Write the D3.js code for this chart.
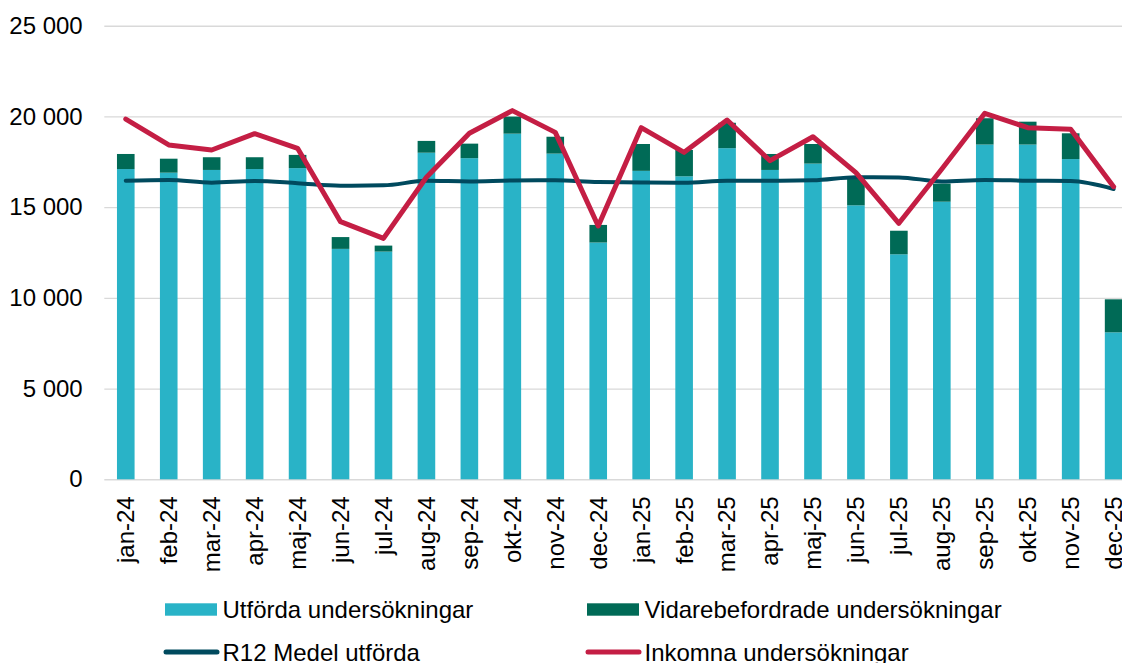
<!DOCTYPE html>
<html>
<head>
<meta charset="utf-8">
<script src="https://cdn.jsdelivr.net/npm/d3@7"></script>
<style>
  body { margin: 0; background: #fff; }
  svg { display: block; font-family: "Liberation Sans", Arial, sans-serif; }
</style>
</head>
<body>
<div class="chart"></div>
<script>
// manader
const months = ['jan-24','feb-24','mar-24','apr-24','maj-24','jun-24','jul-24','aug-24','sep-24','okt-24','nov-24','dec-24',
                'jan-25','feb-25','mar-25','apr-25','maj-25','jun-25','jul-25','aug-25','sep-25','okt-25','nov-25','dec-25'];

const utforda  = [17100,16900,17050,17100,17150,12700,12550,18000,17700,19050,17950,13050,
                  17000,16700,18250,17050,17400,15100,12400,15300,18450,18450,17650,8100];
const vidare   = [830,770,700,650,730,650,330,650,800,940,930,970,
                  1480,1450,1400,880,1080,1500,1300,1000,1450,1260,1420,1820];
const r12      = [16460,16500,16350,16440,16320,16180,16200,16450,16420,16470,16480,16380,
                  16360,16340,16460,16460,16480,16650,16640,16420,16500,16460,16440,16000];
const inkomna  = [19850,18430,18150,19050,18240,14200,13280,16650,19070,20320,19120,13960,
                  19380,18020,19800,17560,18880,16900,14110,17100,20170,19380,19290,16130];

const yTicks = [0,5000,10000,15000,20000,25000];

const colors = {
    utf: '#29b3c7',
    vid: '#006a56',
    r12: '#004a5e',
    ink: '#c41e44'
}

const width = 1122, height = 663;
const margin = {left: 104.3, right: 1135.1, top: 25.7, bottom: 479.3};

const svg = d3.select('.chart').append('svg')
    .attr('width', width)
    .attr('height', height)
    .attr('viewBox', [0, 0, width, height]);

const x = d3.scaleBand().domain(months).range([margin.left, margin.right]).padding(0);
const y = d3.scaleLinear().domain([0, 25000]).range([margin.bottom, margin.top]);
const barW = x.bandwidth() * 0.41;
const cx = d => x(d) + x.bandwidth() / 2;

const fmt = d3.formatLocale({decimal: ',', thousands: ' ', grouping: [3], currency: ['', '']}).format(',d');

// y axis + grid
const yAxis = svg.append('g')
    .attr('transform', `translate(${margin.left},0)`)
    .call(d3.axisLeft(y).tickValues(yTicks).tickFormat(fmt)
        .tickSize(-(margin.right - margin.left)).tickPadding(21.6));
yAxis.select('.domain').remove();
yAxis.selectAll('line').attr('stroke', '#d9d9d9').attr('stroke-width', 1.4);
yAxis.selectAll('text')
    .attr('fill', '#000')
    .style('font-size', '24px')
    .style('font-family', '"Liberation Sans", Arial, sans-serif');

// x axis labels
const xAxis = svg.append('g')
    .attr('transform', `translate(0,${margin.bottom})`)
    .call(d3.axisBottom(x).tickSize(0));
xAxis.select('.domain').remove();
xAxis.selectAll('text')
    .attr('transform', 'rotate(-90)')
    .attr('text-anchor', 'end')
    .attr('x', -17)
    .attr('y', 0)
    .attr('dy', '0.35em')
    .attr('fill', '#000')
    .style('font-size', '24px')
    .style('font-family', '"Liberation Sans", Arial, sans-serif');

// staplar
const stacked = months.map((m, i) => ({m, u: utforda[i], v: vidare[i]}));

svg.append('g').selectAll('rect')
    .data(stacked)
    .join('rect')
    .attr('x', d => cx(d.m) - barW / 2)
    .attr('width', barW)
    .attr('y', d => y(d.u))
    .attr('height', d => y(0) - y(d.u))
    .attr('fill', colors.utf);

svg.append('g').selectAll('rect')
    .data(stacked)
    .join('rect')
    .attr('x', d => cx(d.m) - barW / 2)
    .attr('width', barW)
    .attr('y', d => y(d.u + d.v))
    .attr('height', d => y(d.u) - y(d.u + d.v))
    .attr('fill', colors.vid);

// linjer
const r12Line = d3.line()
    .x((d, i) => cx(months[i]))
    .y(d => y(d))
    .curve(d3.curveMonotoneX);

svg.append('path')
    .datum(r12)
    .attr('d', r12Line)
    .attr('fill', 'none')
    .attr('stroke', colors.r12)
    .attr('stroke-width', 4)
    .attr('stroke-linecap', 'round');

const inkLine = d3.line()
    .x((d, i) => cx(months[i]))
    .y(d => y(d));

svg.append('path')
    .datum(inkomna)
    .attr('d', inkLine)
    .attr('fill', 'none')
    .attr('stroke', colors.ink)
    .attr('stroke-width', 5)
    .attr('stroke-linejoin', 'round')
    .attr('stroke-linecap', 'round');

// legend
const legendItems = [
    {label: 'Utförda undersökningar', type: 'rect', color: colors.utf, lx: 165, ly: 609.5},
    {label: 'Vidarebefordrade undersökningar', type: 'rect', color: colors.vid, lx: 587, ly: 609.5},
    {label: 'R12 Medel utförda', type: 'line', color: colors.r12, lx: 165, ly: 652},
    {label: 'Inkomna undersökningar', type: 'line', color: colors.ink, lx: 587, ly: 652}
];

const lg = svg.append('g').selectAll('g')
    .data(legendItems)
    .join('g')
    .attr('transform', d => `translate(${d.lx},${d.ly})`);

lg.filter(d => d.type === 'rect').append('rect')
    .attr('x', 0).attr('y', -6.2)
    .attr('width', 52).attr('height', 12.4)
    .attr('fill', d => d.color);

lg.filter(d => d.type === 'line').append('line')
    .attr('x1', 1).attr('x2', 52)
    .attr('y1', 0).attr('y2', 0)
    .attr('stroke', d => d.color)
    .attr('stroke-width', 5)
    .attr('stroke-linecap', 'round');

lg.append('text')
    .attr('x', 57.5)
    .attr('y', 8.5)
    .style('font-size', '24px')
    .attr('fill', '#000')
    .text(d => d.label);
</script>
</body>
</html>
